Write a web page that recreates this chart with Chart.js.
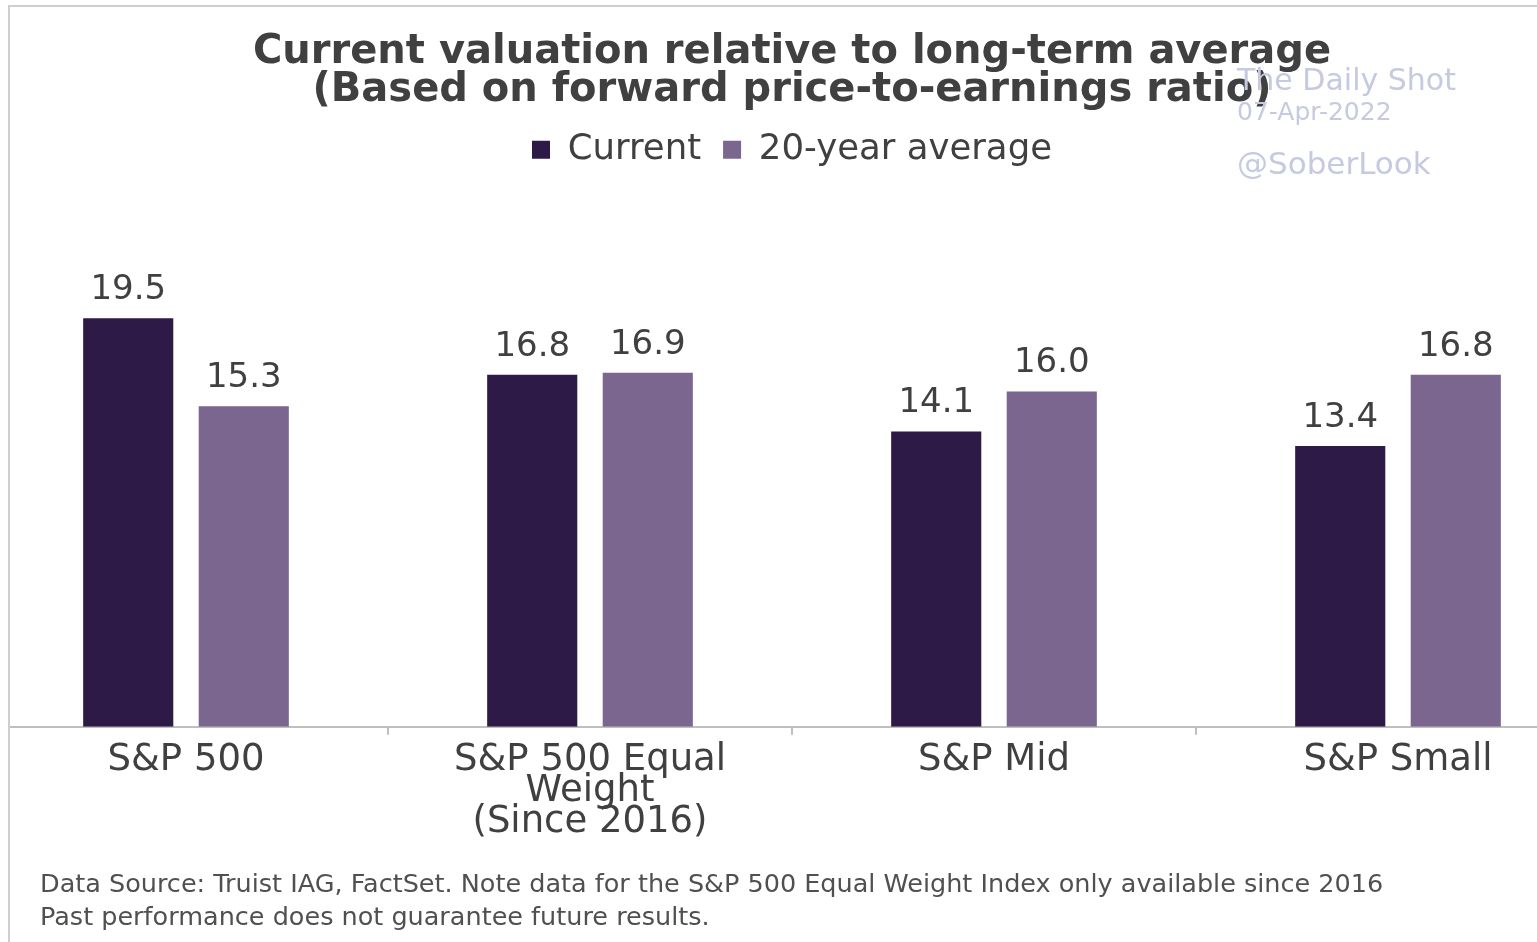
<!DOCTYPE html>
<html>
<head>
<meta charset="utf-8">
<script src="https://cdn.jsdelivr.net/npm/chart.js@4.4.1/dist/chart.umd.min.js"></script>
<style>
  html, body { margin: 0; padding: 0; background: #fff; overflow: hidden; }
  #frame {
    position: absolute; left: 8px; top: 5px; right: 0; bottom: 0;
    border-left: 2px solid #cfcfcf; border-top: 2px solid #cfcfcf;
    overflow: hidden;
  }
  #chart { position: absolute; left: -26px; top: -7px; }
</style>
</head>
<body>
<div id="frame"><canvas id="chart" width="1616" height="942"></canvas></div>
<script>
const categories = [['S&P 500'], ['S&P 500 Equal', 'Weight', '(Since 2016)'], ['S&P Mid'], ['S&P Small']];
const currentValues = [19.5, 16.8, 14.1, 13.4];
const averageValues = [15.3, 16.9, 16.0, 16.8];
const seriesNames = ['Current', '20-year average'];

const titleLines = ['Current valuation relative to long-term average', '(Based on forward price-to-earnings ratio)'];
const footnotes = [
  'Data Source: Truist IAG, FactSet. Note data for the S&P 500 Equal Weight Index only available since 2016',
  'Past performance does not guarantee future results.'
];

const FONT = "'DejaVu Sans', sans-serif";
const TEXT = '#404040';

// value labels above each bar
const valueLabels = {
  id: 'valueLabels',
  afterDatasetsDraw(chart) {
    const ctx = chart.ctx;
    ctx.save();
    ctx.font = '34px ' + FONT;
    ctx.fillStyle = TEXT;
    ctx.textAlign = 'center';
    ctx.textBaseline = 'bottom';
    chart.data.datasets.forEach((ds, i) => {
      chart.getDatasetMeta(i).data.forEach((bar, j) => {
        ctx.fillText(ds.data[j].toFixed(1), bar.x, bar.y - 11);
      });
    });
    ctx.restore();
  }
};

// watermark and footnotes (page x is canvas x - 16)
const extras = {
  id: 'extras',
  afterDraw(chart) {
    const ctx = chart.ctx;
    const ox = 16;
    ctx.save();
    ctx.textAlign = 'left';
    ctx.textBaseline = 'middle';
    ctx.fillStyle = '#c6cae0';
    ctx.font = '30px ' + FONT;
    ctx.fillText('The Daily Shot', 1237 + ox, 82);
    ctx.font = '25px ' + FONT;
    ctx.fillText('07-Apr-2022', 1237 + ox, 113);
    ctx.font = '31px ' + FONT;
    ctx.fillText('@SoberLook', 1237 + ox, 166);

    ctx.fillStyle = '#505050';
    ctx.font = '25.5px ' + FONT;
    ctx.fillText(footnotes[0], 40 + ox, 885);
    ctx.fillText(footnotes[1], 40 + ox, 918);
    ctx.restore();
  }
};

new Chart(document.getElementById('chart'), {
  type: 'bar',
  data: {
    labels: categories,
    datasets: [
      { label: seriesNames[0], data: currentValues, backgroundColor: '#2e1a47' },
      { label: seriesNames[1], data: averageValues, backgroundColor: '#7a668e' }
    ]
  },
  options: {
    responsive: false,
    animation: false,
    devicePixelRatio: 1,
    categoryPercentage: 0.572,
    barPercentage: 0.78,
    layout: { padding: { left: 0, right: 0, top: 0, bottom: 94 } },
    plugins: {
      title: {
        display: true,
        text: titleLines,
        color: TEXT,
        font: { family: FONT, size: 40, weight: 'bold', lineHeight: 0.95 },
        padding: { top: 34, bottom: 0 }
      },
      legend: {
        display: true,
        labels: {
          color: TEXT,
          font: { family: FONT, size: 35.5 },
          boxWidth: 18,
          boxHeight: 18,
          padding: 22
        }
      },
      tooltip: { enabled: false }
    },
    scales: {
      x: {
        grid: { drawOnChartArea: false, drawTicks: true, tickLength: 8, color: '#bfbfbf', lineWidth: 2 },
        border: { display: true, color: '#bfbfbf', width: 2 },
        ticks: {
          color: TEXT,
          font: { family: FONT, size: 37, lineHeight: 0.84 },
          padding: 10,
          maxRotation: 0,
          autoSkip: false
        }
      },
      y: {
        display: false,
        min: 0,
        max: 26.22
      }
    }
  },
  plugins: [valueLabels, extras]
});
</script>
</body>
</html>
